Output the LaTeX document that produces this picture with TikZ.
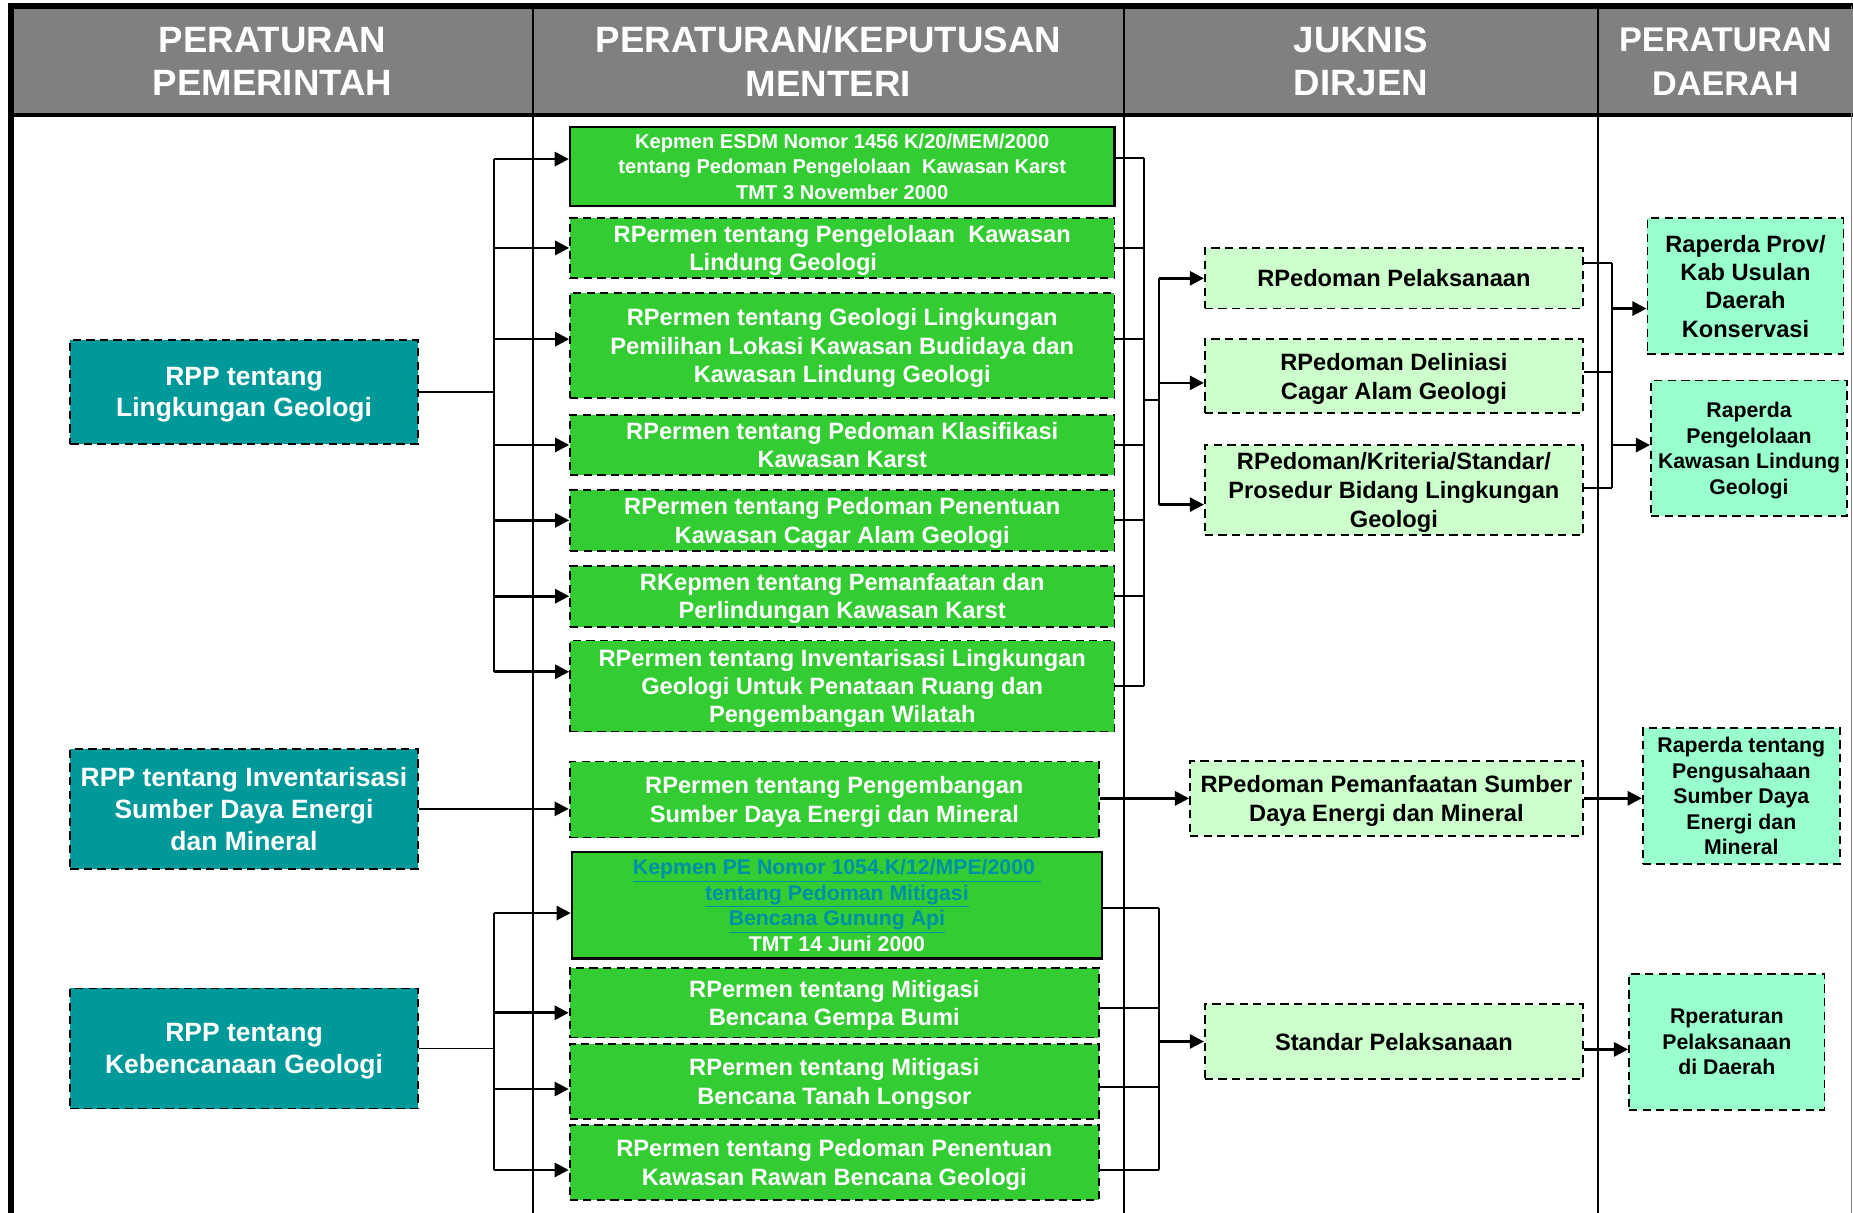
\documentclass[tikz,border=0pt]{standalone}
\usepackage{fontspec}
\setmainfont{Liberation Sans}
\usetikzlibrary{arrows.meta}

\definecolor{headgray}{HTML}{808080}
\definecolor{ppteal}{HTML}{009999}
\definecolor{pmgreen}{HTML}{33CC33}
\definecolor{jklight}{HTML}{CCFFCC}
\definecolor{pdmint}{HTML}{99FFCC}
\definecolor{linkblue}{RGB}{0,145,168}

\begin{document}
\begin{tikzpicture}[x=1pt, y=-1pt,
	every node/.style={align=center, inner sep=0pt},
	dashbox/.style={draw=black, line width=1.5pt, dash pattern=on 7pt off 4.5pt, text depth=0pt},
	rpp/.style={dashbox, fill=ppteal, text=white, minimum width=294pt, font=\bfseries\fontsize{22.4}{27}\selectfont},
	permen/.style={dashbox, fill=pmgreen, text=white, font=\bfseries\fontsize{20}{24}\selectfont},
	kepmen/.style={draw=black, line width=2pt, fill=pmgreen, text=white, text depth=0pt, font=\bfseries\fontsize{17}{21.3}\selectfont},
	juknis/.style={dashbox, fill=jklight, text=black, minimum width=320pt, font=\bfseries\fontsize{20}{24.5}\selectfont},
	perda/.style={dashbox, fill=pdmint, text=black, font=\bfseries\fontsize{18}{21.5}\selectfont},
	head/.style={text=white, font=\bfseries\fontsize{31}{37}\selectfont},
	bus/.style={line width=1.5pt},
	link/.style={line width=2.2pt, -{Triangle[length=12pt, width=12pt]}}
	]
			\useasboundingbox (0,0) rectangle (1568,1026.4);
			
			% table frame
			\fill[headgray] (11,7.9) rectangle (1568,96);
			\draw[line width=5pt] (6.5,5.3) -- (1568,5.3);
			\draw[line width=2.7pt] (9,97.3) -- (1568,97.3);
			\draw[line width=4.5pt] (9.2,3) -- (9.2,1026.4);
			\foreach \x in {451,951,1352}
			\draw[line width=2pt] (\x,5) -- (\x,1026.4);
			\draw[gray, line width=1pt] (1567,5) -- (1567,1026.4);
			
			\node[head] (h1) at (230.5,52) {PERATURAN\\PEMERINTAH};
			\node[head] (h2) at (701,52) {PERATURAN/KEPUTUSAN\\MENTERI};
			\node[head] (h3) at (1151.5,52) {JUKNIS\\DIRJEN};
			\node[head, font=\bfseries\fontsize{29}{37}\selectfont] (h4) at (1460,52) {PERATURAN\\DAERAH};
			
			% peraturan pemerintah
			\node[rpp, minimum height=88pt] (pp1) at (206.5,331.6) {RPP tentang\\Lingkungan Geologi};
			\node[rpp, minimum height=101.3pt] (pp2) at (206.5,684.4) {RPP tentang Inventarisasi\\Sumber Daya Energi\\dan Mineral};
			\node[rpp, minimum height=101.6pt] (pp3) at (206.5,887.2) {RPP tentang\\Kebencanaan Geologi};
			
			% peraturan menteri
			\node[kepmen, minimum width=460.6pt, minimum height=66.6pt] (pm1) at (712.7,141) {Kepmen ESDM Nomor 1456 K/20/MEM/2000\\tentang Pedoman Pengelolaan\ \ Kawasan Karst\\TMT 3 November 2000};
			\node[permen, minimum width=460.6pt, minimum height=51.2pt] (pm2) at (712.7,209.8) {RPermen tentang Pengelolaan\ \ Kawasan\\Lindung Geologi\rule{100pt}{0pt}};
			\node[permen, minimum width=460.6pt, minimum height=88.8pt] (pm3) at (712.7,292.4) {RPermen tentang Geologi Lingkungan\\Pemilihan Lokasi Kawasan Budidaya dan\\Kawasan Lindung Geologi};
			\node[permen, minimum width=460.6pt, minimum height=51pt] (pm4) at (712.7,376.5) {RPermen tentang Pedoman Klasifikasi\\Kawasan Karst};
			\node[permen, minimum width=460.6pt, minimum height=51.4pt] (pm5) at (712.7,440.3) {RPermen tentang Pedoman Penentuan\\Kawasan Cagar Alam Geologi};
			\node[permen, minimum width=460.6pt, minimum height=51.6pt] (pm6) at (712.7,504.5) {RKepmen tentang Pemanfaatan dan\\Perlindungan Kawasan Karst};
			\node[permen, minimum width=460.6pt, minimum height=77pt] (pm7) at (712.7,580.5) {RPermen tentang Inventarisasi Lingkungan\\Geologi Untuk Penataan Ruang dan\\Pengembangan Wilatah};
			\node[permen, minimum width=448pt, minimum height=64.3pt] (pm8) at (706,676.6) {RPermen tentang Pengembangan\\Sumber Daya Energi dan Mineral};
			\node[kepmen, minimum width=448.5pt, minimum height=90pt, font=\bfseries\fontsize{18}{21.5}\selectfont] (pm9) at (708.2,766) {{\color{linkblue}\underline{Kepmen PE Nomor 1054.K/12/MPE/2000\ }}\\{\color{linkblue}\underline{tentang Pedoman Mitigasi}}\\{\color{linkblue}\underline{Bencana Gunung Api}}\\TMT 14 Juni 2000};
			\node[permen, minimum width=448pt, minimum height=59.2pt] (pm10) at (706,848.4) {RPermen tentang Mitigasi\\Bencana Gempa Bumi};
			\node[permen, minimum width=448pt, minimum height=63.6pt] (pm11) at (706,915.2) {RPermen tentang Mitigasi\\Bencana Tanah Longsor};
			\node[permen, minimum width=448pt, minimum height=63.5pt] (pm12) at (706,983.7) {RPermen tentang Pedoman Penentuan\\Kawasan Rawan Bencana Geologi};
			
			% juknis dirjen
			\node[juknis, minimum height=51pt] (jk1) at (1179.5,235.5) {RPedoman Pelaksanaan};
			\node[juknis, minimum height=62.6pt] (jk2) at (1179.5,318.3) {RPedoman Deliniasi\\Cagar Alam Geologi};
			\node[juknis, minimum height=76pt] (jk3) at (1179.5,414.6) {RPedoman/Kriteria/Standar/\\Prosedur Bidang Lingkungan\\Geologi};
			\node[juknis, minimum width=332.5pt, minimum height=63.7pt] (jk4) at (1173.2,675.5) {RPedoman Pemanfaatan Sumber\\Daya Energi dan Mineral};
			\node[juknis, minimum height=63.4pt] (jk5) at (1179.5,881.3) {Standar Pelaksanaan};
			
			% peraturan daerah
			\node[perda, minimum width=166pt, minimum height=115pt, font=\bfseries\fontsize{20}{24}\selectfont] (pd1) at (1477,242.1) {Raperda Prov/\\Kab Usulan\\Daerah\\Konservasi};
			\node[perda, minimum width=166pt, minimum height=114.7pt] (pd2) at (1480,379.3) {Raperda\\Pengelolaan\\Kawasan Lindung\\Geologi};
			\node[perda, minimum width=167pt, minimum height=115pt] (pd3) at (1473.5,673.5) {Raperda tentang\\Pengusahaan\\Sumber Daya\\Energi dan\\Mineral};
			\node[perda, minimum width=165.5pt, minimum height=115pt] (pd4) at (1461.2,881.5) {Rperaturan\\Pelaksanaan\\di Daerah};
			
			% where the connectors meet the boxes
			\foreach \i/\a/\b in {1/6.4/7.2,2/0/0,3/5.4/5.4,4/0/0,5/0/0,6/0/0,7/12.1/0,8/0/1,9/-6.6/-2.5,10/-8.6/-4.6,11/-6.3/-4.4,12/-6.3/-6.3}
			\path ([yshift=\a pt]pm\i.west) coordinate (pmi\i) ([yshift=\b pt]pm\i.east) coordinate (pmo\i);
			\foreach \i/\a/\b in {1/0/13,2/-5.7/3.8,3/-12.4/1.6,5/0/-6.7}
			\path ([yshift=\a pt]jk\i.west) coordinate (jki\i) ([yshift=\b pt]jk\i.east) coordinate (jko\i);
			\path ([yshift=-19pt]pd1.west) coordinate (pdi1) ([yshift=2.7pt]pd2.west) coordinate (pdi2);
			
			\coordinate (busA) at (418,0);
			\coordinate (busB) at (968,0);
			\coordinate (busC) at (981,0);
			\coordinate (busD) at (1364,0);
			\coordinate (jn) at (968,338.5);
			
			% PP -> Menteri
			\draw[bus] (pp1.east) -- (pp1.east -| busA);
			\draw[bus] (pmi1 -| busA) -- (pmi7 -| busA);
			\foreach \i in {1,...,7}
			\draw[link] (pmi\i -| busA) -- (pmi\i);
			\draw[link] (pp2.east) -- (pp2.east -| pm8.west);
			\draw[bus] (pp3.east) -- (pp3.east -| busA);
			\draw[bus] (pmi9 -| busA) -- (pmi12 -| busA);
			\foreach \i in {9,...,12}
			\draw[link] (pmi\i -| busA) -- (pmi\i);
			
			% Menteri -> Juknis
			\foreach \i in {1,...,7}
			\draw[bus] (pmo\i) -- (pmo\i -| busB);
			\draw[bus] (pmo1 -| busB) -- (pmo7 -| busB);
			\draw[bus] (jn) -- (jn -| busC);
			\draw[bus] (jki1 -| busC) -- (jki3 -| busC);
			\foreach \i in {1,2,3}
			\draw[link] (jki\i -| busC) -- (jki\i);
			\draw[link] (pmo8) -- (pmo8 -| jk4.west);
			\foreach \i in {9,...,12}
			\draw[bus] (pmo\i) -- (pmo\i -| busC);
			\draw[bus] (pmo9 -| busC) -- (pmo12 -| busC);
			\draw[link] (jki5 -| busC) -- (jki5);
			
			% Juknis -> Perda
			\foreach \i in {1,2,3}
			\draw[bus] (jko\i) -- (jko\i -| busD);
			\draw[bus] (jko1 -| busD) -- (jko3 -| busD);
			\draw[link] (pdi1 -| busD) -- (pdi1);
			\draw[link] (pdi2 -| busD) -- (pdi2);
			\draw[link] (jk4.east) -- (jk4.east -| pd3.west);
			\draw[link] (jko5) -- (jko5 -| pd4.west);
\end{tikzpicture}
\end{document}
